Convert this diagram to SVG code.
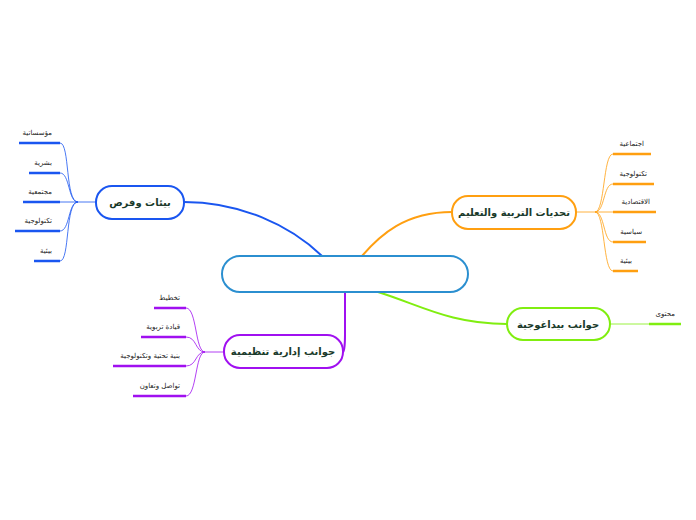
<svg xmlns="http://www.w3.org/2000/svg" width="696" height="520" viewBox="0 0 696 520">
<style>
.n{fill:#fff;stroke-width:2}
.t{font-family:"DejaVu Sans","Noto Sans",sans-serif;font-weight:bold;font-size:10px;fill:#1a3a2a;text-anchor:middle}
.l{font-family:"DejaVu Sans","Noto Sans",sans-serif;font-size:7px;fill:#222;text-anchor:end}
.c{fill:none}
</style>
<rect width="696" height="520" fill="#fff"/>
<g id="connectors" class="c">
<g stroke="#1a56f0">
<path d="M322,256 C290,225 240,202 184,202" stroke-width="2"/>
<path d="M96,202 H78 M78,202 C65,202 70,143 60,143 M78,202 C68,202 70,173 60,173 M78,202 H60 M78,202 C68,202 70,231 60,231 M78,202 C65,202 70,261 60,261" stroke-width="0.8"/>
<path d="M19,143 H60 M29,173 H60 M23,202 H60 M15,231 H60 M34,261 H60" stroke-width="2.5"/>
</g>
<g stroke="#ff9f10">
<path d="M362,256 C380,235 405,212 452,212" stroke-width="2"/>
<path d="M576,212 H595 M595,212 C605,212 603,154 613,154 M595,212 C605,212 603,184 613,184 M595,212 H613 M595,212 C605,212 603,242 613,242 M595,212 C605,212 603,271 613,271" stroke-width="0.8"/>
<path d="M613,154 H651 M613,184 H654 M613,212 H656 M613,242 H646 M613,271 H638" stroke-width="2.5"/>
</g>
<g stroke="#80ee10">
<path d="M378,292 C420,305 450,324 507,324" stroke-width="2"/>
<path d="M610,324 H649" stroke-width="0.8"/>
<path d="M649,324 H681" stroke-width="2.5"/>
</g>
<g stroke="#a010f0">
<path d="M345,292 V335 C345,345 344,352 343,352" stroke-width="2"/>
<path d="M224,352 H205 M205,352 C195,352 197,308 186,308 M205,352 C195,352 197,337 186,337 M205,352 C195,352 197,366 186,366 M205,352 C195,352 197,396 186,396" stroke-width="0.8"/>
<path d="M154,308 H186 M141,337 H186 M113,366 H186 M133,396 H186" stroke-width="2.5"/>
</g>
</g>
<g id="center"><rect x="222" y="256" width="246" height="36" rx="18" class="n" stroke="#2b8fd0"/></g>
<g id="n-blue"><rect x="96" y="186" width="88" height="33" rx="16" class="n" stroke="#1a56f0"/><text x="140" y="206" class="t">بيئات وفرص</text></g>
<g id="n-orange"><rect x="452" y="196" width="124" height="33" rx="16" class="n" stroke="#ff9f10"/><text x="514" y="216" class="t">تحديات التربية والتعليم</text></g>
<g id="n-green"><rect x="507" y="308" width="103" height="32" rx="16" class="n" stroke="#80ee10"/><text x="558" y="328" class="t">جوانب بيداغوجية</text></g>
<g id="n-purple"><rect x="224" y="335" width="119" height="33" rx="16" class="n" stroke="#a010f0"/><text x="283" y="355" class="t">جوانب إدارية تنظيمية</text></g>
<g id="leaves">
<text x="52" y="135" class="l">مؤسساتية</text>
<text x="52" y="165" class="l">بشرية</text>
<text x="52" y="194" class="l">مجتمعية</text>
<text x="52" y="223" class="l">تكنولوجية</text>
<text x="52" y="253" class="l">بيئية</text>
<text x="644" y="146" class="l">اجتماعية</text>
<text x="647" y="176" class="l">تكنولوجية</text>
<text x="650" y="204" class="l">الاقتصادية</text>
<text x="642" y="234" class="l">سياسية</text>
<text x="632" y="263" class="l">بيئية</text>
<text x="675" y="316" class="l">محتوى</text>
<text x="180" y="300" class="l">تخطيط</text>
<text x="180" y="329" class="l">قيادة تربوية</text>
<text x="180" y="358" class="l">بنية تحتية وتكنولوجية</text>
<text x="180" y="388" class="l">تواصل وتعاون</text>
</g>
</svg>
